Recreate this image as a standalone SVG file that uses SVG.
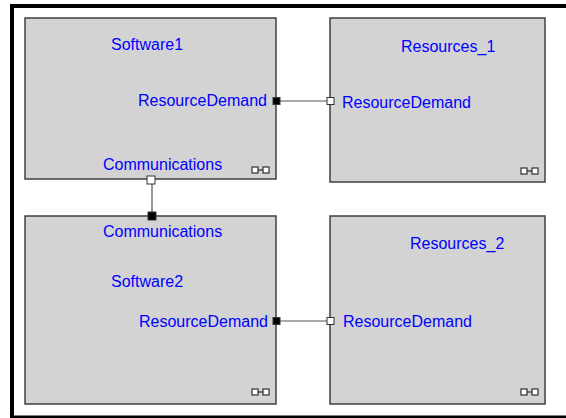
<svg xmlns="http://www.w3.org/2000/svg" width="566" height="418" viewBox="0 0 566 418">
<style>
.box{fill:#d3d3d3;stroke:#404040;stroke-width:1.5}
.lbl{font-family:"Liberation Sans",Arial,sans-serif;font-size:16px;fill:#0000ff}
.ic{fill:#ffffff;stroke:#303030;stroke-width:1.2}
.wire{stroke:#555555;stroke-width:1.2;fill:none}
.pin{fill:#000000;stroke:#333333;stroke-width:1}
.pout{fill:#ffffff;stroke:#333333;stroke-width:1}
</style>
<defs>
<g id="icon">
<rect class="ic" x="0" y="0" width="6" height="6"/>
<line x1="6" y1="3" x2="11" y2="3" stroke="#303030" stroke-width="1.2"/>
<rect class="ic" x="11" y="0" width="6" height="6"/>
</g>
</defs>
<rect x="0" y="0" width="566" height="418" fill="#ffffff"/>
<rect x="12" y="6" width="570" height="411.5" fill="none" stroke="#000000" stroke-width="4"/>
<g id="Software1">
<rect class="box" x="25" y="18" width="251" height="161"/>
<text class="lbl" x="111" y="50">Software1</text>
<text class="lbl" x="138" y="106">ResourceDemand</text>
<text class="lbl" x="103" y="170">Communications</text>
<use href="#icon" x="252" y="167"/>
</g>
<g id="Resources_1">
<rect class="box" x="330" y="18" width="215" height="164"/>
<text class="lbl" x="401" y="52">Resources_1</text>
<text class="lbl" x="342" y="108">ResourceDemand</text>
<use href="#icon" x="521" y="168"/>
</g>
<g id="Software2">
<rect class="box" x="25" y="216" width="251" height="188"/>
<text class="lbl" x="103" y="237">Communications</text>
<text class="lbl" x="111" y="287">Software2</text>
<text class="lbl" x="139" y="327">ResourceDemand</text>
<use href="#icon" x="252" y="389"/>
</g>
<g id="Resources_2">
<rect class="box" x="330" y="216" width="215" height="188"/>
<text class="lbl" x="410" y="249">Resources_2</text>
<text class="lbl" x="343" y="327">ResourceDemand</text>
<use href="#icon" x="521" y="389"/>
</g>
<g id="connectors">
<line class="wire" x1="280" y1="101" x2="327" y2="101"/>
<rect class="pin" x="273" y="97.5" width="7" height="7"/>
<rect class="pout" x="327" y="97.5" width="7" height="7"/>
<line class="wire" x1="280" y1="321" x2="327" y2="321"/>
<rect class="pin" x="273" y="317.5" width="7" height="7"/>
<rect class="pout" x="327" y="317.5" width="7" height="7"/>
<line class="wire" x1="152" y1="184" x2="152" y2="212"/>
<rect class="pout" x="147" y="176" width="8" height="8"/>
<rect class="pin" x="148" y="212" width="8" height="8"/>
</g>
</svg>
